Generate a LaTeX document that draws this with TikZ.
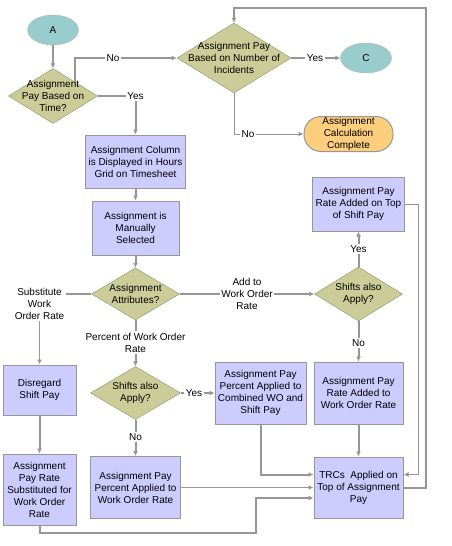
\documentclass[tikz,border=0pt]{standalone}
\usepackage{fontspec}
\setmainfont{Liberation Sans}
\usetikzlibrary{arrows.meta}
\usetikzlibrary{shapes.geometric, positioning}
\definecolor{linegray}{RGB}{150,150,150}
\definecolor{decolive}{RGB}{204,204,153}
\definecolor{boxlilac}{RGB}{204,204,255}
\definecolor{ovalteal}{RGB}{153,204,204}
\definecolor{endorange}{RGB}{252,206,125}

\begin{document}
\begin{tikzpicture}[x=1pt, y=-1pt,
    every node/.style={font=\fontsize{10}{12}\selectfont, align=center},
    dec/.style={diamond, draw=decolive!70!black, line width=0.4pt, fill=decolive, inner sep=0pt},
    box/.style={rectangle, draw=linegray, line width=1pt, fill=boxlilac, inner sep=1pt},
    oval/.style={ellipse, draw=linegray!70, fill=ovalteal, minimum width=51pt, minimum height=30pt, inner sep=0pt},
    tag/.style={inner sep=1.5pt},
    link/.style={draw=linegray, line width=2pt},
    thinlink/.style={draw=linegray, line width=1pt},
    flow/.style={link, -{Latex[length=5pt,width=5pt]}},
    thinflow/.style={thinlink, -{Latex[length=5pt,width=5pt]}}]

    \useasboundingbox (0,0) rectangle (451,546);

    % --- INICIO ---
    \node[oval] (A) at (53,30) {A};
    \node[dec, minimum width=89pt, minimum height=55pt, label={center:Assignment\\Pay Based on\\Time?}] (d1) at (53,96) {};
    \node[dec, minimum width=114pt, minimum height=70pt, label={center:Assignment Pay\\Based on Number of\\Incidents}] (d2) at (234,58) {};
    \node[oval] (C) at (366,58) {C};
    \node[rectangle, rounded corners=17pt, draw=linegray, line width=1pt, fill=endorange, minimum width=89pt, minimum height=35pt, inner sep=0pt] (done) at (348.5,134) {Assignment\\Calculation\\Complete};

    % etiquetas
    \node[tag] (no1) at (113,58) {No};
    \node[tag] (yes1) at (135.5,96) {Yes};
    \node[tag] (yes2) at (315,58) {Yes};
    \node[tag] (no2) at (248,134) {No};

    % --- COLUMNA CENTRAL ---
    \node[box, minimum width=100pt, minimum height=53pt] (b1) at (135.5,161.5) {Assignment Column\\is Displayed in Hours\\Grid on Timesheet};
    \node[box, minimum width=87pt, minimum height=54pt] (b2) at (135.5,228) {Assignment is\\Manually\\Selected};
    \node[dec, minimum width=88pt, minimum height=52pt, label={center:Assignment\\Attributes?}] (d3) at (135.5,294) {};

    \node[tag] (subst) at (39.5,304) {Substitute\\Work\\Order Rate};
    \node[tag] (pct) at (135.5,342.5) {Percent of Work Order\\Rate};
    \node[tag] (add) at (247,294) {Add to\\Work Order\\Rate};

    % --- RAMA DERECHA ---
    \node[dec, minimum width=88pt, minimum height=54pt, label={center:Shifts also\\Apply?}] (d4) at (358.5,294) {};
    \node[tag] (yes4) at (358.5,249) {Yes};
    \node[tag] (no4) at (358.5,343) {No};
    \node[box, minimum width=92pt, minimum height=54pt] (ts) at (358.5,204) {Assignment Pay\\Rate Added on Top\\of Shift Pay};
    \node[box, minimum width=89pt, minimum height=62pt] (rw) at (358.5,393) {Assignment Pay\\Rate Added to\\Work Order Rate};

    % --- RAMA PORCENTAJE ---
    \node[dec, minimum width=90pt, minimum height=53pt, label={center:Shifts also\\Apply?}] (d5) at (135.5,393) {};
    \node[tag] (yes5) at (194,393) {Yes};
    \node[tag] (no5) at (135.5,437) {No};
    \node[box, minimum width=91pt, minimum height=62pt] (cw) at (260.5,393) {Assignment Pay\\Percent Applied to\\Combined WO and\\Shift Pay};
    \node[box, minimum width=90pt, minimum height=62pt] (pw) at (135.5,487.5) {Assignment Pay\\Percent Applied to\\Work Order Rate};

    % --- RAMA SUSTITUIR ---
    \node[box, minimum width=73pt, minimum height=50pt] (dsp) at (39.5,390) {Disregard\\Shift Pay};
    \node[box, minimum width=73pt, minimum height=71pt] (sub) at (39.5,489.5) {Assignment\\Pay Rate\\Substituted for\\Work Order\\Rate};

    % --- FINAL ---
    \node[box, minimum width=89pt, minimum height=61pt] (trc) at (358.5,487.5) {TRCs\ \ Applied on\\Top of Assignment\\Pay};

    % conectores
    \draw[flow] (A) -- (d1);
    \draw[link] (d1.north east) |- (no1);
    \draw[flow] (no1) -- (d2);
    \draw[link] (d1) -- (yes1);
    \draw[flow] (yes1) -- (b1);
    \draw[link] (d2) -- (yes2);
    \draw[flow] (yes2) -- (C);
    \draw[thinlink] (d2.south) |- (no2);
    \draw[thinflow] (no2) -- (done);

    \draw[flow] (b1) -- (b2);
    \draw[flow] (b2) -- (d3);
    \draw[link] (d3.west) -- (d3.west -| subst.east);
    \draw[thinflow] (subst) -- (dsp);
    \draw[link] (d3) -- (pct);
    \draw[flow] (pct) -- (d5);
    \draw[link] (d3) -- (add);
    \draw[flow] (add) -- (d4);

    \draw[link] (d4) -- (yes4);
    \draw[flow] (yes4) -- (ts);
    \draw[link] (d4) -- (no4);
    \draw[flow] (no4) -- (rw);
    \draw[flow] (rw) -- (trc);
    \draw[thinflow] (ts.east) -- ++(13,0) |- ([yshift=13pt]trc.east);

    \draw[link] (d5) -- (yes5);
    \draw[flow] (yes5) -- (cw);
    \draw[link] (d5) -- (no5);
    \draw[flow] (no5) -- (pw);
    \draw[flow] (cw.south) |- ([yshift=13pt]trc.west);
    \draw[thinflow] (pw) -- (trc);

    \draw[flow] (dsp) -- (sub);
    \draw[flow] (sub.south) |- (256,533) |- ([yshift=-10.5pt]trc.west);

    \draw[flow] (trc.east) -- ++(22,0) |- ([yshift=15pt]d2.north) -- (d2.north);

\end{tikzpicture}
\end{document}
